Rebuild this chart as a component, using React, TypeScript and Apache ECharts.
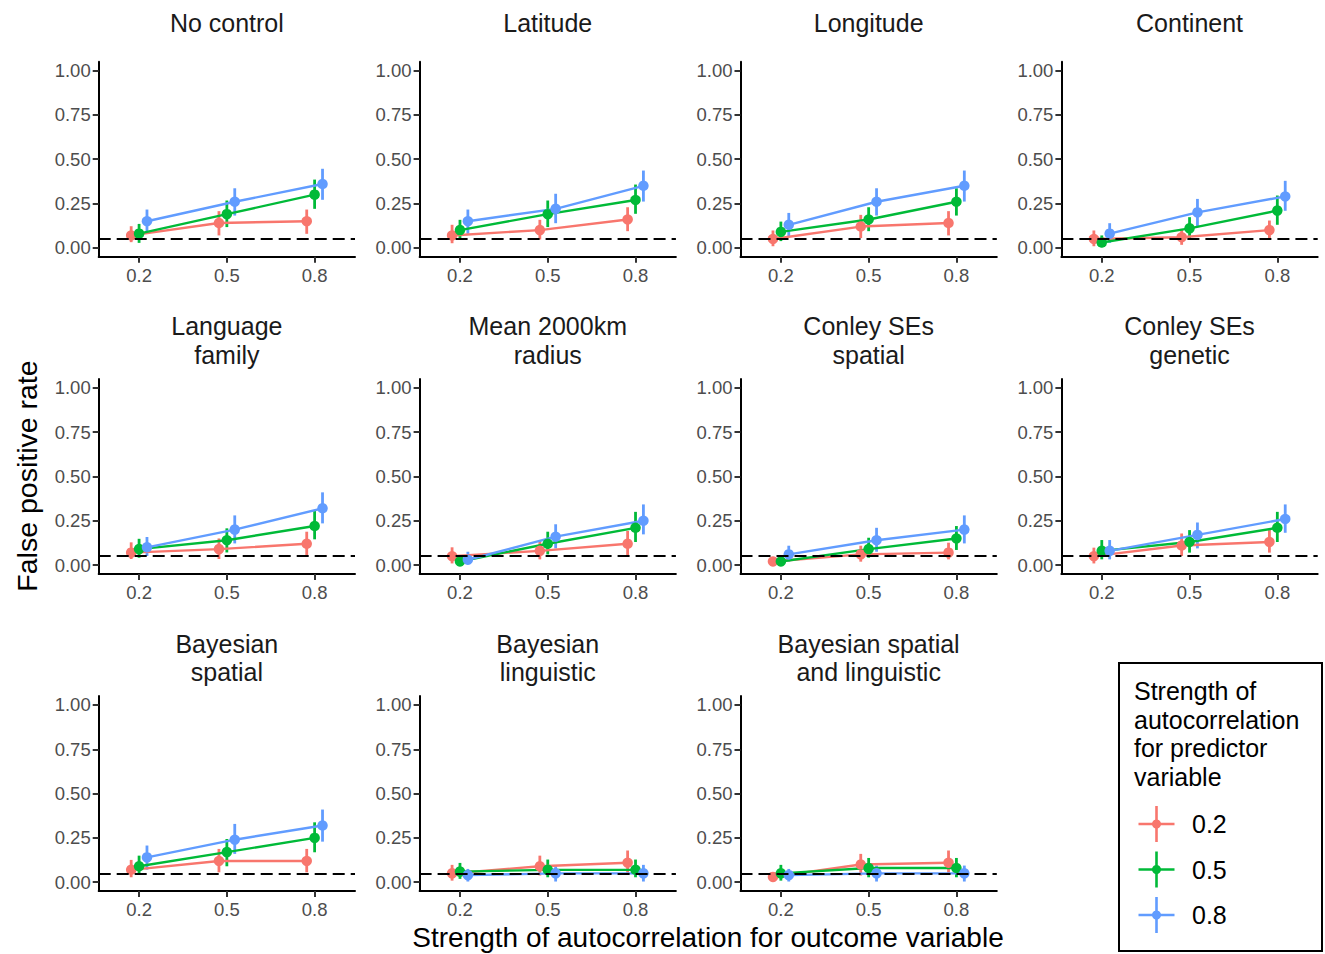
import React, { useEffect, useRef } from "react";
import * as echarts from "echarts";

const panelTitles = [
  "No control", "Latitude", "Longitude", "Continent",
  "Language\nfamily", "Mean 2000km\nradius", "Conley SEs\nspatial", "Conley SEs\ngenetic",
  "Bayesian\nspatial", "Bayesian\nlinguistic", "Bayesian spatial\nand linguistic",
];
const outcomeLevels = [0.2, 0.5, 0.8];
const predictorLevels = ["0.2", "0.5", "0.8"];
const yTicks = [0, 0.25, 0.5, 0.75, 1];
const nominalRate = 0.05;

// estimates per panel (outcome 0.2, 0.5, 0.8)
const est02 = [
  [0.07, 0.14, 0.15], [0.07, 0.10, 0.16], [0.05, 0.12, 0.14], [0.05, 0.06, 0.10],
  [0.07, 0.09, 0.12], [0.05, 0.08, 0.12], [0.02, 0.06, 0.07], [0.05, 0.11, 0.13],
  [0.07, 0.12, 0.12], [0.05, 0.09, 0.11], [0.03, 0.10, 0.11],
];
const est05 = [
  [0.08, 0.19, 0.30], [0.10, 0.19, 0.27], [0.09, 0.16, 0.26], [0.03, 0.11, 0.21],
  [0.09, 0.14, 0.22], [0.02, 0.12, 0.21], [0.02, 0.09, 0.15], [0.08, 0.13, 0.21],
  [0.09, 0.17, 0.25], [0.06, 0.07, 0.07], [0.05, 0.08, 0.08],
];
const est08 = [
  [0.15, 0.26, 0.36], [0.15, 0.22, 0.35], [0.13, 0.26, 0.35], [0.08, 0.20, 0.29],
  [0.10, 0.20, 0.32], [0.03, 0.16, 0.25], [0.06, 0.14, 0.20], [0.08, 0.17, 0.26],
  [0.14, 0.24, 0.32], [0.04, 0.05, 0.05], [0.04, 0.05, 0.05],
];
const lo02 = [
  [0.032, 0.07, 0.079], [0.026, 0.047, 0.094], [0.009, 0.055, 0.07], [0.009, 0.017, 0.047],
  [0.034, 0.034, 0.056], [0.009, 0.032, 0.056], [0.003, 0.019, 0.032], [0.009, 0.051, 0.07],
  [0.028, 0.056, 0.056], [0.009, 0.038, 0.047], [0.004, 0.038, 0.047],
];
const hi02 = [
  [0.122, 0.207, 0.216], [0.13, 0.158, 0.229], [0.098, 0.186, 0.207], [0.098, 0.107, 0.154],
  [0.128, 0.15, 0.188], [0.10, 0.141, 0.192], [0.043, 0.109, 0.126], [0.098, 0.178, 0.197],
  [0.126, 0.188, 0.188], [0.098, 0.15, 0.179], [0.056, 0.16, 0.179],
];
const lo05 = [
  [0.028, 0.117, 0.22], [0.047, 0.117, 0.192], [0.038, 0.094, 0.182], [0.004, 0.049, 0.13],
  [0.041, 0.071, 0.145], [0.005, 0.06, 0.13], [0.003, 0.041, 0.085], [0.032, 0.07, 0.13],
  [0.041, 0.09, 0.169], [0.019, 0.028, 0.028], [0.009, 0.028, 0.028],
];
const hi05 = [
  [0.135, 0.267, 0.385], [0.158, 0.267, 0.357], [0.148, 0.229, 0.336], [0.07, 0.173, 0.295],
  [0.148, 0.207, 0.306], [0.045, 0.188, 0.30], [0.043, 0.154, 0.22], [0.141, 0.197, 0.30],
  [0.15, 0.244, 0.338], [0.109, 0.128, 0.128], [0.098, 0.137, 0.137],
];
const lo08 = [
  [0.079, 0.182, 0.271], [0.079, 0.139, 0.261], [0.06, 0.182, 0.261], [0.028, 0.122, 0.209],
  [0.051, 0.122, 0.235], [0.01, 0.094, 0.173], [0.019, 0.075, 0.122], [0.032, 0.094, 0.182],
  [0.071, 0.16, 0.229], [0.004, 0.004, 0.004], [0.004, 0.004, 0.004],
];
const hi08 = [
  [0.216, 0.336, 0.446], [0.216, 0.305, 0.436], [0.197, 0.336, 0.436], [0.139, 0.276, 0.378],
  [0.158, 0.28, 0.41], [0.075, 0.23, 0.342], [0.109, 0.21, 0.28], [0.141, 0.24, 0.342],
  [0.207, 0.329, 0.41], [0.075, 0.09, 0.098], [0.075, 0.094, 0.094],
];

const estimates = [est02, est05, est08];
const lowers = [lo02, lo05, lo08];
const uppers = [hi02, hi05, hi08];
const colors = ["#F8766D", "#00BA38", "#619CFF"];
const dodge = [-0.027, 0, 0.027];

const FONT = "Liberation Sans, Arial, Helvetica, sans-serif";
const X_MIN = 0.062;
const X_MAX = 0.938;
const Y_MIN = -0.05;
const Y_MAX = 1.05;

const GRID_LEFT0 = 98.7;
const GRID_DX = 320.9;
const GRID_W = 256.3;
const GRID_TOP0 = 61.7;
const GRID_DY = 317.2;
const GRID_H = 195;

export default function App() {
  const ref = useRef<HTMLDivElement>(null);

  useEffect(() => {
    if (!ref.current) return;
    const chart = echarts.init(ref.current, null, { renderer: "svg" });

    const grids: any[] = [];
    const xAxes: any[] = [];
    const yAxes: any[] = [];
    const series: any[] = [];
    const graphics: any[] = [];

    panelTitles.forEach((title, p) => {
      const row = Math.floor(p / 4);
      const col = p % 4;
      const left = GRID_LEFT0 + GRID_DX * col;
      const top = GRID_TOP0 + GRID_DY * row;
      grids.push({ left, top, width: GRID_W, height: GRID_H, containLabel: false });
      xAxes.push({
        gridIndex: p,
        type: "value",
        min: X_MIN,
        max: X_MAX,
        axisLine: { show: true, onZero: false, lineStyle: { color: "#000", width: 2 } },
        axisTick: {
          show: true,
          customValues: outcomeLevels,
          length: 6,
          lineStyle: { color: "#333", width: 2 },
        },
        axisLabel: {
          customValues: outcomeLevels,
          formatter: (v: number) => v.toFixed(1),
          color: "#4d4d4d",
          fontSize: 18.5,
          fontFamily: FONT,
          margin: 9,
        },
        splitLine: { show: false },
      });
      yAxes.push({
        gridIndex: p,
        type: "value",
        min: Y_MIN,
        max: Y_MAX,
        axisLine: { show: true, onZero: false, lineStyle: { color: "#000", width: 2 } },
        axisTick: {
          show: true,
          customValues: yTicks,
          length: 6,
          lineStyle: { color: "#333", width: 2 },
        },
        axisLabel: {
          customValues: yTicks,
          formatter: (v: number) => v.toFixed(2),
          color: "#4d4d4d",
          fontSize: 18.5,
          fontFamily: FONT,
          margin: 8,
        },
        splitLine: { show: false },
      });

      for (let s = 0; s < 3; s++) {
        const color = colors[s];
        const barData = outcomeLevels.map((o, k) => [
          o + dodge[s],
          lowers[s][p][k],
          uppers[s][p][k],
        ]);
        series.push({
          type: "custom",
          xAxisIndex: p,
          yAxisIndex: p,
          data: barData,
          encode: { x: 0, y: [1, 2] },
          silent: true,
          renderItem: (params: any, api: any) => {
            const x = api.value(0);
            const a = api.coord([x, api.value(1)]);
            const b = api.coord([x, api.value(2)]);
            return {
              type: "line",
              shape: { x1: a[0], y1: a[1], x2: b[0], y2: b[1] },
              style: { stroke: color, lineWidth: 2.8 },
            };
          },
        });
        series.push({
          type: "line",
          xAxisIndex: p,
          yAxisIndex: p,
          data: outcomeLevels.map((o, k) => [o + dodge[s], estimates[s][p][k]]),
          symbol: "circle",
          symbolSize: 10.5,
          showSymbol: true,
          lineStyle: { color, width: 2.4 },
          itemStyle: { color },
          silent: true,
        });
      }
      series.push({
        type: "line",
        xAxisIndex: p,
        yAxisIndex: p,
        data: [],
        silent: true,
        markLine: {
          silent: true,
          symbol: "none",
          label: { show: false },
          lineStyle: { color: "#000", type: [12, 6], width: 2.2 },
          data: [{ yAxis: nominalRate }],
        },
      });

      graphics.push({
        type: "text",
        x: left + GRID_W / 2,
        y: top - 38.3,
        style: {
          text: title,
          fill: "#1a1a1a",
          font: `25px ${FONT}`,
          align: "center",
          verticalAlign: "middle",
          lineHeight: 28.5,
        },
      });
    });

    // axis titles
    graphics.push({
      type: "text",
      x: 708,
      y: 937,
      style: {
        text: "Strength of autocorrelation for outcome variable",
        fill: "#000",
        font: `28px ${FONT}`,
        align: "center",
        verticalAlign: "middle",
      },
    });
    graphics.push({
      type: "text",
      x: 27,
      y: 476,
      rotation: Math.PI / 2,
      style: {
        text: "False positive rate",
        fill: "#000",
        font: `28.5px ${FONT}`,
        align: "center",
        verticalAlign: "middle",
      },
    });

    // legend
    graphics.push({
      type: "rect",
      shape: { x: 1119, y: 663, width: 203, height: 288 },
      style: { fill: "#fff", stroke: "#000", lineWidth: 2 },
    });
    graphics.push({
      type: "text",
      x: 1134,
      y: 677,
      style: {
        text: "Strength of\nautocorrelation\nfor predictor\nvariable",
        fill: "#000",
        font: `25px ${FONT}`,
        align: "left",
        verticalAlign: "top",
        lineHeight: 28.5,
      },
    });
    predictorLevels.forEach((lab, i) => {
      const cy = 824 + 45.5 * i;
      const cx = 1156.5;
      graphics.push({
        type: "line",
        shape: { x1: cx - 18, y1: cy, x2: cx + 18, y2: cy },
        style: { stroke: colors[i], lineWidth: 2.6 },
      });
      graphics.push({
        type: "line",
        shape: { x1: cx, y1: cy - 18, x2: cx, y2: cy + 18 },
        style: { stroke: colors[i], lineWidth: 2.6 },
      });
      graphics.push({
        type: "circle",
        shape: { cx, cy, r: 4.5 },
        style: { fill: colors[i] },
      });
      graphics.push({
        type: "text",
        x: 1192,
        y: cy,
        style: {
          text: lab,
          fill: "#000",
          font: `25px ${FONT}`,
          align: "left",
          verticalAlign: "middle",
        },
      });
    });

    chart.setOption({
      animation: false,
      backgroundColor: "#fff",
      textStyle: { fontFamily: FONT },
      grid: grids,
      xAxis: xAxes,
      yAxis: yAxes,
      series,
      graphic: graphics,
    });

    return () => chart.dispose();
  }, []);

  return (
    <div
      ref={ref}
      style={{ position: "absolute", left: 0, top: 0, width: 1325, height: 954 }}
    />
  );
}
